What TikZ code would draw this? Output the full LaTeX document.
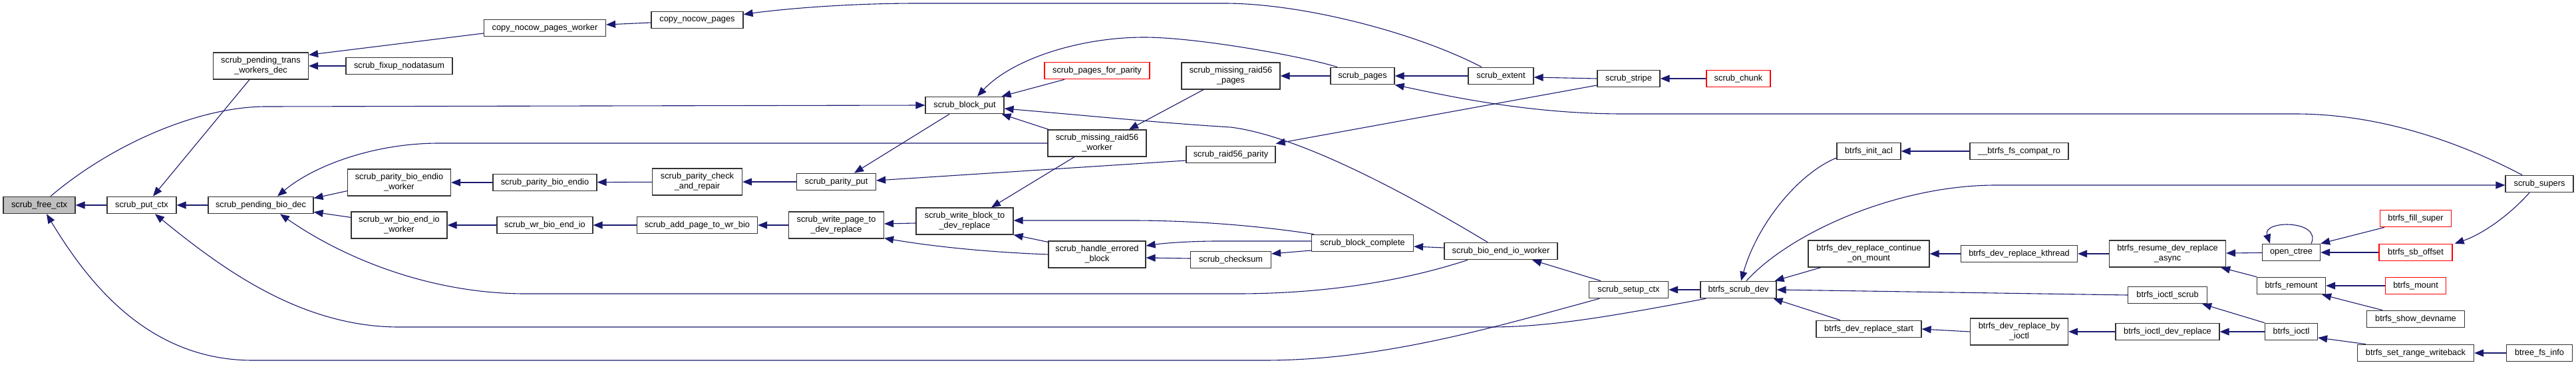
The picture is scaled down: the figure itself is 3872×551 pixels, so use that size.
\documentclass[tikz,border=0pt]{standalone}
\usepackage{fontspec}
\setmainfont{Liberation Sans}
\usetikzlibrary{arrows.meta}
\definecolor{edgeblue}{RGB}{25,25,112}
\definecolor{boxred}{RGB}{255,0,0}
\begin{document}
\begin{tikzpicture}[x=1pt,y=-1pt,>={Triangle[length=14pt,width=11pt]},
  fn/.style={draw=black!80,line width=1.2pt,fill=white,minimum height=25.5pt,inner xsep=3pt,inner ysep=2pt,font=\fontsize{12.8}{15}\selectfont,align=center},
  tall/.style={minimum height=40pt},
  rd/.style={draw=boxred},
  cg/.style={->,draw=edgeblue,fill=none,line width=1.1pt}]
\useasboundingbox (0,0) rectangle (3872,551);
\node[fn,minimum width=108pt,fill=black!25] (freectx) at (59,308) {scrub\_free\_ctx};
\node[fn,minimum width=104pt] (putctx) at (213,308) {scrub\_put\_ctx};
\node[fn,tall,minimum width=143pt] (transdec) at (392,99) {scrub\_pending\_trans\\\_workers\_dec};
\node[fn,minimum width=160pt] (fixup) at (600,99) {scrub\_fixup\_nodatasum};
\node[fn,minimum width=158pt] (biodec) at (392,308) {scrub\_pending\_bio\_dec};
\node[fn,tall,minimum width=155pt] (pbeworker) at (600,274) {scrub\_parity\_bio\_endio\\\_worker};
\node[fn,tall,minimum width=144pt] (wrworker) at (600,338) {scrub\_wr\_bio\_end\_io\\\_worker};
\node[fn,minimum width=183pt] (cnpworker) at (819,42) {copy\_nocow\_pages\_worker};
\node[fn,minimum width=138pt] (cnp) at (1048,30) {copy\_nocow\_pages};
\node[fn,minimum width=156pt] (pbe) at (819,274) {scrub\_parity\_bio\_endio};
\node[fn,tall,minimum width=135pt] (pcheck) at (1048,273) {scrub\_parity\_check\\\_and\_repair};
\node[fn,minimum width=119pt] (pput) at (1257,273) {scrub\_parity\_put};
\node[fn,minimum width=144pt] (wrbio) at (819,338) {scrub\_wr\_bio\_end\_io};
\node[fn,minimum width=181pt] (addpage) at (1048,338) {scrub\_add\_page\_to\_wr\_bio};
\node[fn,tall,minimum width=143pt] (wpage) at (1257,338) {scrub\_write\_page\_to\\\_dev\_replace};
\node[fn,minimum width=118pt] (bput) at (1450,158) {scrub\_block\_put};
\node[fn,rd,minimum width=158pt] (pfp) at (1649,106) {scrub\_pages\_for\_parity};
\node[fn,tall,minimum width=148pt] (mrpages) at (1850,114) {scrub\_missing\_raid56\\\_pages};
\node[fn,tall,minimum width=148pt] (mrworker) at (1649,215) {scrub\_missing\_raid56\\\_worker};
\node[fn,minimum width=134pt] (r56par) at (1850,232) {scrub\_raid56\_parity};
\node[fn,tall,minimum width=146pt] (wblock) at (1450,332) {scrub\_write\_block\_to\\\_dev\_replace};
\node[fn,tall,minimum width=146pt] (errblk) at (1649,382) {scrub\_handle\_errored\\\_block};
\node[fn,minimum width=121pt] (csum) at (1850,390) {scrub\_checksum};
\node[fn,minimum width=96pt] (spages) at (2048,114) {scrub\_pages};
\node[fn,minimum width=98pt] (sext) at (2256,114) {scrub\_extent};
\node[fn,minimum width=94pt] (sstripe) at (2448,118) {scrub\_stripe};
\node[fn,rd,minimum width=96pt] (schunk) at (2613,118) {scrub\_chunk};
\node[fn,minimum width=153pt] (bcomp) at (2048,365) {scrub\_block\_complete};
\node[fn,minimum width=170pt] (bioworker) at (2256,377) {scrub\_bio\_end\_io\_worker};
\node[fn,minimum width=119pt] (setup) at (2448,435) {scrub\_setup\_ctx};
\node[fn,minimum width=114pt] (scrubdev) at (2613,435) {btrfs\_scrub\_dev};
\node[fn,minimum width=96pt] (initacl) at (2809,227) {btrfs\_init\_acl};
\node[fn,minimum width=148pt] (compat) at (3035,227) {\_\_btrfs\_fs\_compat\_ro};
\node[fn,tall,minimum width=182pt] (contmount) at (2809,381) {btrfs\_dev\_replace\_continue\\\_on\_mount};
\node[fn,minimum width=175pt] (kthread) at (3035,381) {btrfs\_dev\_replace\_kthread};
\node[fn,tall,minimum width=175pt] (resume) at (3258,381) {btrfs\_resume\_dev\_replace\\\_async};
\node[fn,minimum width=119pt] (ioscrub) at (3258,443) {btrfs\_ioctl\_scrub};
\node[fn,minimum width=158pt] (repstart) at (2809,494) {btrfs\_dev\_replace\_start};
\node[fn,tall,minimum width=147pt] (byioctl) at (3035,498) {btrfs\_dev\_replace\_by\\\_ioctl};
\node[fn,minimum width=156pt] (iorep) at (3258,498) {btrfs\_ioctl\_dev\_replace};
\node[fn,minimum width=102pt] (supers) at (3817,276) {scrub\_supers};
\node[fn,minimum width=87pt] (octree) at (3444,379) {open\_ctree};
\node[fn,rd,minimum width=107pt] (fillsup) at (3631,328) {btrfs\_fill\_super};
\node[fn,rd,minimum width=110pt] (sboff) at (3631,379) {btrfs\_sb\_offset};
\node[fn,minimum width=103pt] (remount) at (3444,429) {btrfs\_remount};
\node[fn,rd,minimum width=91pt] (mount) at (3631,429) {btrfs\_mount};
\node[fn,minimum width=147pt] (showdev) at (3631,479) {btrfs\_show\_devname};
\node[fn,minimum width=79pt] (ioctl) at (3444,498) {btrfs\_ioctl};
\node[fn,minimum width=175pt] (setrange) at (3631,530) {btrfs\_set\_range\_writeback};
\node[fn,minimum width=99pt] (fsinfo) at (3817,530) {btree\_fs\_info};
\draw[cg] (putctx) -- (freectx);
\draw[cg] ([xshift=17pt]freectx.north) .. controls (170,215) and (300,160) .. (400,160) -- (bput.west);
\draw[cg] ([xshift=-44pt]setup.south) .. controls (2250,490) and (2080,541) .. (1900,541) -- (380,541) .. controls (220,541) and (130,420) .. ([xshift=11pt]freectx.south);
\draw[cg] (biodec) -- (putctx);
\draw[cg] ([xshift=-17pt]transdec.south) -- ([xshift=17pt]putctx.north);
\draw[cg] ([xshift=-49pt]scrubdev.south) .. controls (2420,475) and (2330,491) .. (2240,491) -- (600,491) .. controls (450,491) and (330,400) .. ([xshift=20pt]putctx.south);
\draw[cg] (mrworker.west) -- (660,215) .. controls (560,215) and (470,250) .. ([xshift=25pt]biodec.north);
\draw[cg] ([yshift=8pt]pbeworker.south west) -- ([yshift=-3pt]biodec.north east);
\draw[cg] ([yshift=-9pt]wrworker.north west) -- ([yshift=3pt]biodec.south east);
\draw[cg] ([xshift=-50pt]bioworker.south) .. controls (2100,425) and (1980,441) .. (1860,441) -- (790,441) .. controls (650,441) and (520,390) .. ([xshift=29pt]biodec.south);
\draw[cg] ([yshift=-8pt]cnpworker.west) -- ([yshift=-4pt]transdec.north east);
\draw[cg] (fixup) -- (transdec);
\draw[cg] ([yshift=-4pt]cnp.west) -- ([yshift=5pt]cnpworker.east);
\draw[cg] ([xshift=-29pt]sext.north) .. controls (2130,50) and (1960,5) .. (1840,5) -- (1380,5) .. controls (1250,5) and (1150,17) .. ([yshift=-5pt]cnp.north east);
\draw[cg] (pbe) -- (pbeworker);
\draw[cg] (pcheck) -- (pbe);
\draw[cg] (pput) -- (pcheck);
\draw[cg] ([xshift=-23pt]bput.south) -- ([xshift=27pt]pput.north);
\draw[cg] ([yshift=-9pt]r56par.west) -- ([yshift=2pt]pput.east);
\draw[cg] (wrbio) -- (wrworker);
\draw[cg] (addpage) -- (wrbio);
\draw[cg] (wpage) -- (addpage);
\draw[cg] ([yshift=-3pt]wblock.west) -- ([yshift=2pt]wpage.east);
\draw[cg] (errblk.west) .. controls (1470,378) and (1390,368) .. ([yshift=1pt]wpage.south east);
\draw[cg] ([xshift=-49pt]pfp.south) -- ([xshift=-4pt]bput.north east);
\draw[cg] ([xshift=2pt]mrworker.north west) -- ([xshift=-4pt]bput.south east);
\draw[cg] ([xshift=-38pt]spages.north) .. controls (1960,85) and (1800,56) .. (1720,56) .. controls (1620,56) and (1520,90) .. ([xshift=19pt]bput.north);
\draw[cg] ([xshift=-20pt]bioworker.north) .. controls (2130,300) and (1960,205) .. (1850,191) .. controls (1750,185) and (1650,175) .. ([yshift=-5pt]bput.east);
\draw[cg] (spages) -- (mrpages);
\draw[cg] ([xshift=-41pt]mrpages.south) -- ([xshift=48pt]mrworker.north);
\draw[cg] ([yshift=-10pt]sstripe.west) -- ([yshift=3pt]r56par.north east);
\draw[cg] ([xshift=-34pt]mrworker.south) -- ([xshift=40pt]wblock.north);
\draw[cg] ([xshift=4pt]bcomp.north west) .. controls (1900,340) and (1800,331) .. (1701,331) -- ([yshift=1pt]wblock.east);
\draw[cg] ([yshift=-2pt]errblk.north west) -- (wblock.south east);
\draw[cg] ([yshift=3pt]bcomp.west) -- (1830,362) .. controls (1790,362) and (1750,365) .. ([yshift=13pt]errblk.east);
\draw[cg] ([yshift=2pt]csum.west) -- ([yshift=-5pt]errblk.east);
\draw[cg] ([yshift=-11pt]bcomp.west) -- ([yshift=9pt]csum.east);
\draw[cg] (sext) -- (spages);
\draw[cg] ([xshift=-26pt]supers.north) .. controls (3700,215) and (3580,171) .. (3450,171) -- (2440,171) .. controls (2300,171) and (2180,145) .. (spages.south east);
\draw[cg] (sstripe.west) -- ([yshift=-2pt]sext.east);
\draw[cg] (schunk) -- (sstripe);
\draw[cg] ([yshift=5pt]bioworker.west) -- ([yshift=-5pt]bcomp.east);
\draw[cg] ([xshift=-42pt]setup.north) -- ([xshift=47pt]bioworker.south);
\draw[cg] (scrubdev) -- (setup);
\draw[cg] ([yshift=-10pt]initacl.west) .. controls (2700,262) and (2640,340) .. ([xshift=4pt]scrubdev.north);
\draw[cg] ([xshift=12pt]scrubdev.north) .. controls (2690,350) and (2850,278) .. (3000,278) -- ([yshift=-2pt]supers.west);
\draw[cg] ([xshift=-72pt]contmount.south) -- ([xshift=-3pt]scrubdev.north east);
\draw[cg] (ioscrub.west) -- (scrubdev.east);
\draw[cg] ([xshift=-43pt]repstart.north) -- ([xshift=-5pt]scrubdev.south east);
\draw[cg] (compat) -- (initacl);
\draw[cg] (kthread) -- (contmount);
\draw[cg] (resume) -- (kthread);
\draw[cg] (octree) -- (resume);
\draw[cg] (remount.north west) -- ([xshift=-8pt]resume.south east);
\draw[cg] ([xshift=30pt]octree.north) .. controls (3490,330) and (3400,330) .. ([xshift=-32pt]octree.north);
\draw[cg] ([xshift=-47pt]fillsup.south) -- (octree.north east);
\draw[cg] (sboff) -- (octree);
\draw[cg] ([xshift=-15pt]supers.south) .. controls (3770,325) and (3730,352) .. ([xshift=3pt]sboff.north east);
\draw[cg] (mount) -- (remount);
\draw[cg] ([xshift=-50pt]showdev.north) -- ([xshift=-6pt]remount.south east);
\draw[cg] (ioctl.north west) -- ([xshift=-8pt]ioscrub.south east);
\draw[cg] (ioctl) -- (iorep);
\draw[cg] (iorep) -- (byioctl);
\draw[cg] (byioctl.west) -- (repstart.east);
\draw[cg] ([xshift=-75pt]setrange.north) -- ([yshift=-9pt]ioctl.east);
\draw[cg] (fsinfo) -- (setrange);
\end{tikzpicture}
\end{document}
